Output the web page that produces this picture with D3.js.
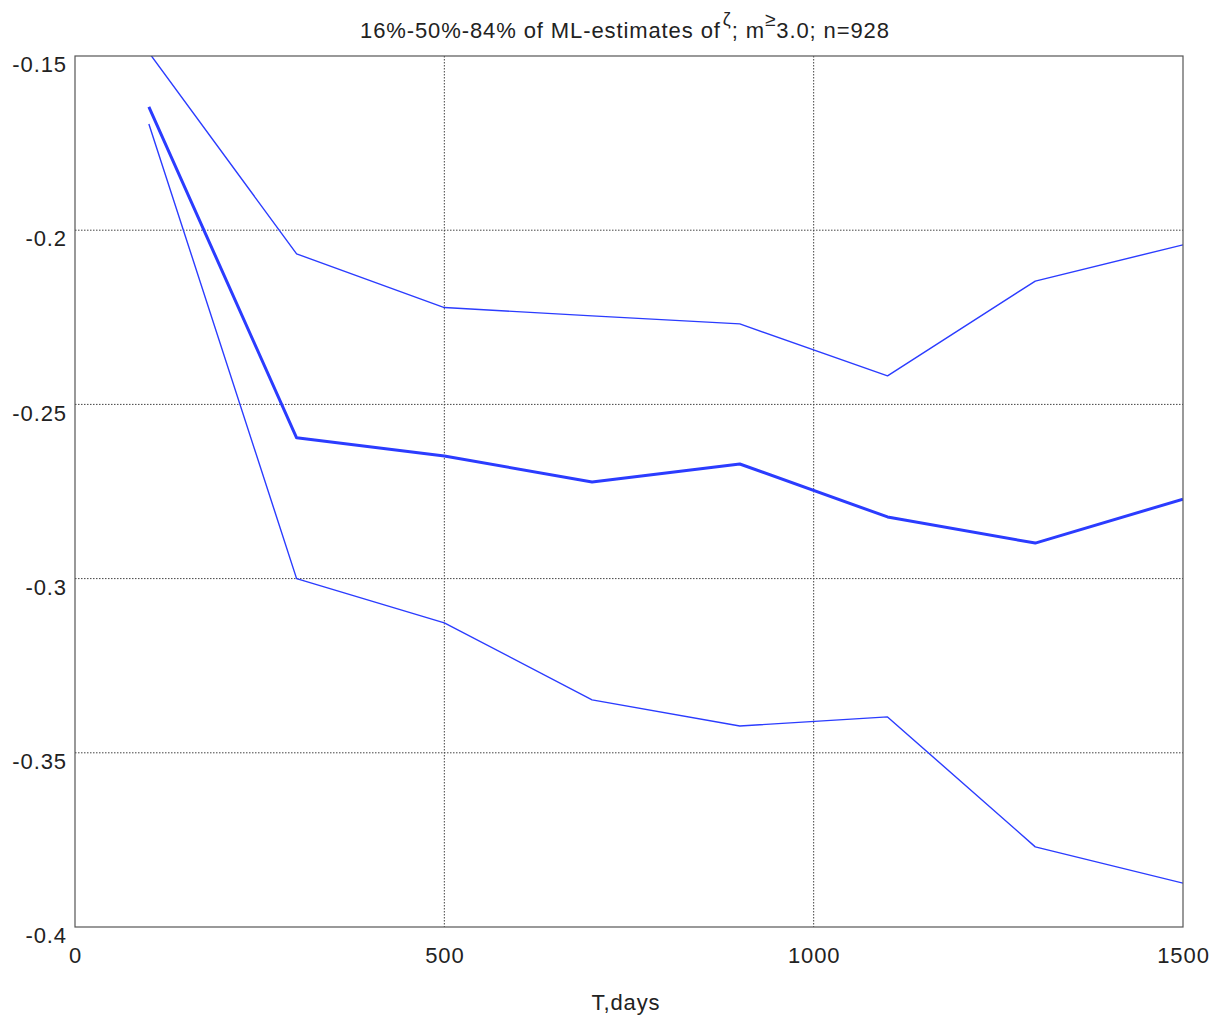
<!DOCTYPE html>
<html>
<head>
<meta charset="utf-8">
<script src="https://cdn.jsdelivr.net/npm/d3@7"></script>
<style>
  body { margin: 0; background: #fff; }
  svg text { font-family: "Liberation Sans", Arial, sans-serif; fill: #222; letter-spacing: 0.9px; }
</style>
</head>
<body>
<svg id="chart" width="1224" height="1021"></svg>
<script>
// Window lengths T (days)
const tDays = [100, 300, 500, 700, 900, 1100, 1300, 1500];
// Quantiles of the ML estimates of zeta
const q84 = [-0.149, -0.2068, -0.2222, -0.2246, -0.2269, -0.2418, -0.2146, -0.2042];
const q50 = [-0.1646, -0.2596, -0.2648, -0.2723, -0.2671, -0.2823, -0.2898, -0.2772];
const q16 = [-0.1695, -0.3000, -0.3127, -0.3348, -0.3423, -0.3397, -0.3770, -0.3874];
const xTicks = [0, 500, 1000, 1500];
const yTicks = [-0.15, -0.2, -0.25, -0.3, -0.35, -0.4];

const svg = d3.select("#chart");
const L = 75, R = 1183, T = 56, B = 927;
const FS = 22;

const x = d3.scaleLinear().domain([0, 1500]).range([L, R]);
const y = d3.scaleLinear().domain([-0.4, -0.15]).range([B, T]);

// Dotted grid at interior ticks
const g = svg.append("g");
g.selectAll("line.vx").data(xTicks.slice(1, -1)).join("line")
  .attr("x1", d => x(d)).attr("x2", d => x(d)).attr("y1", T).attr("y2", B)
  .attr("stroke", "#444").attr("stroke-width", 1).attr("stroke-dasharray", "1.5,1.5");
g.selectAll("line.hy").data(yTicks.slice(1, -1)).join("line")
  .attr("x1", L).attr("x2", R).attr("y1", d => y(d)).attr("y2", d => y(d))
  .attr("stroke", "#444").attr("stroke-width", 1).attr("stroke-dasharray", "1.5,1.5");

// Series
svg.append("clipPath").attr("id", "plotclip").append("rect")
  .attr("x", L).attr("y", T).attr("width", R - L).attr("height", B - T);
const line = d3.line().x(d => x(d[0])).y(d => y(d[1]));
const series = [
  { v: q84, w: 1.4 },
  { v: q16, w: 1.4 },
  { v: q50, w: 3 }
];
svg.append("g").attr("clip-path", "url(#plotclip)")
  .selectAll("path").data(series).join("path")
  .attr("d", s => line(tDays.map((t, i) => [t, s.v[i]])))
  .attr("fill", "none").attr("stroke", "#2b3cff").attr("stroke-width", s => s.w)
  .attr("stroke-linejoin", "round");

// Box
svg.append("rect").attr("x", L).attr("y", T).attr("width", R - L).attr("height", B - T)
  .attr("fill", "none").attr("stroke", "#555").attr("stroke-width", 1.2);

// Axes (labels only, ticks hidden)
const xAxis = d3.axisBottom(x).tickValues(xTicks).tickFormat(d3.format("d")).tickSize(0).tickPadding(0);
const xa = svg.append("g").attr("transform", `translate(0,${B})`).call(xAxis);
xa.select(".domain").remove();
xa.selectAll("text").attr("font-size", FS).attr("dy", null).attr("y", 36).attr("fill", "#222");

const yAxis = d3.axisLeft(y).tickValues(yTicks).tickFormat(d => String(d)).tickSize(0).tickPadding(0);
const ya = svg.append("g").attr("transform", `translate(${L},0)`).call(yAxis);
ya.select(".domain").remove();
ya.selectAll("text").attr("font-size", FS).attr("x", -8).attr("dy", "0.35em")
  .attr("transform", "translate(0,8)").attr("fill", "#222");

// Axis title
svg.append("text").attr("x", 626).attr("y", 1010).attr("text-anchor", "middle")
  .attr("font-size", FS).text("T,days");

// Chart title with raised ζ and ≥
const title = svg.append("text").attr("x", 360).attr("y", 38).attr("text-anchor", "start")
  .attr("font-size", FS);
title.append("tspan").text("16%-50%-84% of ML-estimates of");
title.append("tspan").attr("dy", -13).attr("dx", 2).attr("font-size", 18).text("ζ");
title.append("tspan").attr("dy", 13).text("; m");
title.append("tspan").attr("dy", -12).attr("dx", 0).attr("font-size", 19).text("≥");
title.append("tspan").attr("dy", 12).attr("dx", 0).text("3.0; n=928");
</script>
</body>
</html>
